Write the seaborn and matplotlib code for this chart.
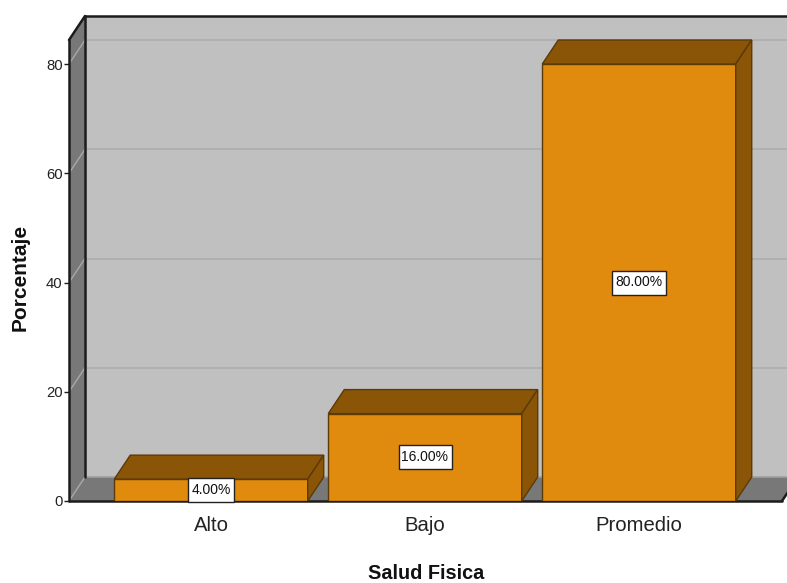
import matplotlib
matplotlib.use("Agg")
import matplotlib.pyplot as plt
import pandas as pd
import seaborn as sns
from matplotlib.patches import Polygon
from matplotlib.path import Path

categorias = ["Alto", "Bajo", "Promedio"]
porcentajes = [4.00, 16.00, 80.00]
ticks_y = [0, 20, 40, 60, 80]

sns.set_theme(style="white")
plt.rcParams["font.family"] = ["Liberation Sans", "DejaVu Sans"]

W, H = 787, 583
PX_X = 214.0      # pixels per category
PX_Y = 437 / 80   # pixels per percentage point
DX = 16 / PX_X    # depth of the box along x, in data units
DY = 24 / PX_Y    # depth of the box along y, in data units

LEFT, RIGHT, BOTTOM, TOP = 69, 787, 501, 16
fig = plt.figure(figsize=(W / 100, H / 100), dpi=100, facecolor="white")
ax = fig.add_axes([LEFT / W, 1 - BOTTOM / H, (RIGHT - LEFT) / W, (BOTTOM - TOP) / H])

datos = pd.DataFrame({"Salud Fisica": categorias, "Porcentaje": porcentajes})
ANCHO = 0.904
NARANJA, OSCURO, BORDE = "#e08a0e", "#8a5506", "#5a3a08"
sns.barplot(data=datos, x="Salud Fisica", y="Porcentaje", color=NARANJA, saturation=1,
            width=ANCHO, edgecolor=BORDE, linewidth=1.0, zorder=4, ax=ax)

x0 = -(211 - LEFT) / PX_X
x1 = x0 + (RIGHT - LEFT) / PX_X
xf = x0 + (782 - LEFT) / PX_X
ymax = (BOTTOM - TOP) / PX_Y
ax.set_xlim(x0, x1)
ax.set_ylim(0, ymax)

# Walls and floor of the box
ax.add_patch(Polygon([(x0 + DX, DY), (x1 + DX, DY), (x1 + DX, ymax), (x0 + DX, ymax)],
                     fc="#c0c0c0", ec="none", zorder=1))
ax.add_patch(Polygon([(x0, 0), (xf, 0), (xf + DX, DY), (x0 + DX, DY)],
                     fc="#787878", ec="none", zorder=1))
ax.add_patch(Polygon([(x0, 0), (x0 + DX, DY), (x0 + DX, ymax), (x0, ymax - DY)],
                     fc="#787878", ec="none", zorder=1))

# Gridlines run along the back wall and down the side wall
for v in ticks_y[1:]:
    ax.plot([x0 + DX, x1], [v + DY, v + DY], color="#adadad", lw=1.2, zorder=2)
    ax.plot([x0, x0 + DX], [v, v + DY], color="#a8a8a8", lw=1.0, zorder=2)
ax.plot([x0 + DX, x1], [DY, DY], color="#a0a0a0", lw=1.2, zorder=2)
ax.plot([x0, x0 + DX], [0, DY], color="#a8a8a8", lw=1.0, zorder=2)

# Heavy outline of the box
negro = "#1c1c1c"
for xs, ys in [([x0, xf], [0, 0]),
               ([xf, xf + DX], [0, DY]),
               ([x0, x0], [0, ymax - DY]),
               ([x0, x0 + DX], [ymax - DY, ymax]),
               ([x0 + DX, x0 + DX], [DY, ymax]),
               ([x0 + DX, x1], [ymax, ymax])]:
    ax.plot(xs, ys, color=negro, lw=1.8, zorder=3, clip_on=False, solid_capstyle="round")


def caja_etiqueta(x, y, ancho, alto, mutation_size):
    """White label box: 3 px beside the text and a fixed 24 px tall."""
    cy = y + alto / 2
    xa, xb = x - 3, x + ancho + 3
    ya, yb = cy - 12, cy + 12
    return Path([(xa, ya), (xb, ya), (xb, yb), (xa, yb), (xa, ya)],
                closed=True)


# Side and top faces of each bar, plus the value label
for i, valor in enumerate(porcentajes):
    a, b = i - ANCHO / 2, i + ANCHO / 2
    ax.add_patch(Polygon([(a, valor), (b, valor), (b + DX, valor + DY), (a + DX, valor + DY)],
                         fc=OSCURO, ec=BORDE, lw=1.0, zorder=4))
    ax.add_patch(Polygon([(b, 0), (b + DX, DY), (b + DX, valor + DY), (b, valor)],
                         fc=OSCURO, ec=BORDE, lw=1.0, zorder=4))
    ax.text(i, valor / 2, f"{valor:.2f}%", ha="center", va="center", fontsize=10,
            color="#111111", zorder=6,
            bbox=dict(boxstyle=caja_etiqueta, fc="white", ec="#222222", lw=1.0))

for s in ax.spines.values():
    s.set_visible(False)
ax.set_yticks(ticks_y)
ax.tick_params(axis="y", left=True, length=3.6, width=1.0, color=negro, labelsize=10.7, pad=1,
               labelcolor="#222222")
ax.tick_params(axis="x", bottom=False, labelsize=14.6, pad=5, labelcolor="#222222")
ax.set_xlabel("Salud Fisica", fontsize=14.3, fontweight="bold", color="#111111")
ax.set_ylabel("Porcentaje", fontsize=15, fontweight="bold", color="#111111")
ax.xaxis.set_label_coords((426 - LEFT) / (RIGHT - LEFT), (BOTTOM - 564) / (BOTTOM - TOP))
ax.yaxis.set_label_coords((30 - LEFT) / (RIGHT - LEFT), (BOTTOM - 277) / (BOTTOM - TOP))

fig.savefig("out.png", dpi=100)
